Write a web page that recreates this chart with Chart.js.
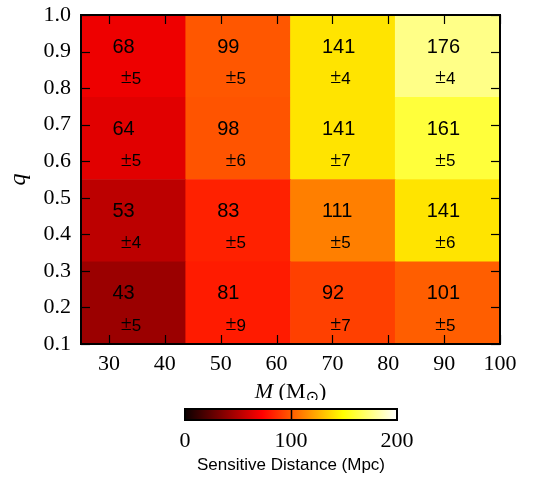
<!DOCTYPE html>
<html>
<head>
<meta charset="utf-8">
<script src="https://cdn.jsdelivr.net/npm/chart.js@4.4.1/dist/chart.umd.min.js"></script>
<style>
  body { margin: 0; background: #fff; }
  canvas { display: block; }
</style>
</head>
<body>
<canvas id="heatChart" width="535" height="400"></canvas>
<canvas id="scaleChart" width="535" height="79"></canvas>
<script>
// bin edges
const massEdges = [25, 43.75, 62.5, 81.25, 100];
const qEdges = [0.1, 0.325, 0.55, 0.775, 1.0];

// sensitive distance (Mpc), one row per q bin from bottom to top
const distRow1 = [43, 81, 92, 101];
const distRow2 = [53, 83, 111, 141];
const distRow3 = [64, 98, 141, 161];
const distRow4 = [68, 99, 141, 176];

// errors
const errRow1 = [5, 9, 7, 5];
const errRow2 = [4, 5, 5, 6];
const errRow3 = [5, 6, 7, 5];
const errRow4 = [5, 5, 4, 4];

const colorbarTicks = [0, 100, 200];

const distRows = [distRow1, distRow2, distRow3, distRow4];
const errRows = [errRow1, errRow2, errRow3, errRow4];
const massBins = massEdges.slice(0, -1).map((m, i) => m + '-' + massEdges[i + 1]);

const serif = "'Liberation Serif', 'DejaVu Serif', serif";
const sans = "'Liberation Sans', Arial, sans-serif";

// matplotlib "hot" colormap
const hotStops = [0, 0.365079, 0.746032, 1];
function hotColor(v) {
    const t = Math.min(1, Math.max(0, v / colorbarTicks[colorbarTicks.length - 1]));
    const r = t < hotStops[1] ? 0.0416 + (1 - 0.0416) * t / hotStops[1] : 1;
    const g = t < hotStops[1] ? 0 : (t < hotStops[2] ? (t - hotStops[1]) / (hotStops[2] - hotStops[1]) : 1);
    const b = t < hotStops[2] ? 0 : (t - hotStops[2]) / (1 - hotStops[2]);
    return 'rgb(' + Math.round(r * 255) + ',' + Math.round(g * 255) + ',' + Math.round(b * 255) + ')';
}

function line(ctx, x1, y1, x2, y2) {
    ctx.beginPath();
    ctx.moveTo(x1, y1);
    ctx.lineTo(x2, y2);
    ctx.stroke();
}

// numbers in the cells
const cellText = {
    id: 'cellText',
    afterDatasetsDraw(chart) {
        const ctx = chart.ctx;
        const x = chart.scales.x, y = chart.scales.y;
        ctx.save();
        ctx.fillStyle = '#000';
        ctx.textBaseline = 'middle';
        ctx.textAlign = 'left';
        distRows.forEach((row, r) => {
            const q0 = qEdges[r], q1 = qEdges[r + 1];
            row.forEach((d, i) => {
                const m0 = massEdges[i], m1 = massEdges[i + 1];
                const nx = x.getPixelForValue(m0 + 0.3 * (m1 - m0));
                const ny = y.getPixelForValue(q0 + 0.61 * (q1 - q0));
                ctx.font = '20px ' + sans;
                ctx.fillText(String(d), nx, ny);
                const ex = x.getPixelForValue(m0 + 0.38 * (m1 - m0));
                const ey = y.getPixelForValue(q0 + 0.233 * (q1 - q0));
                ctx.font = '20px ' + serif;
                ctx.fillText('\u00b1', ex, ey);
                const w = ctx.measureText('\u00b1').width;
                ctx.font = '17px ' + sans;
                ctx.fillText(String(errRows[r][i]), ex + w, ey + 1);
            });
        });
        ctx.restore();
    }
};

// frame, inward ticks and the x title
const frame = {
    id: 'frame',
    afterDraw(chart) {
        const ctx = chart.ctx;
        const {left, right, top, bottom} = chart.chartArea;
        const x = chart.scales.x, y = chart.scales.y;
        ctx.save();
        ctx.strokeStyle = '#000';
        ctx.lineWidth = 1.2;
        x.ticks.forEach(t => {
            const px = Math.round(x.getPixelForValue(t.value)) + 0.5;
            line(ctx, px, bottom, px, bottom - 9);
            line(ctx, px, top, px, top + 9);
        });
        y.ticks.forEach(t => {
            const py = Math.round(y.getPixelForValue(t.value)) + 0.5;
            line(ctx, left, py, left + 9, py);
            line(ctx, right, py, right - 9, py);
        });
        ctx.lineWidth = 2;
        ctx.strokeRect(left, top, right - left, bottom - top);

        // M (M_sun)
        ctx.fillStyle = '#000';
        ctx.textBaseline = 'alphabetic';
        ctx.textAlign = 'left';
        const parts = [
            ['italic 22px ' + serif, 'M', 0],
            ['22px ' + serif, ' (M', 0],
            ['16px ' + "'DejaVu Sans', sans-serif", '\u2299', 4],
            ['22px ' + serif, ')', 0]
        ];
        let total = 0;
        parts.forEach(p => { ctx.font = p[0]; total += ctx.measureText(p[1]).width; });
        let cx = (left + right) / 2 - total / 2;
        parts.forEach(p => {
            ctx.font = p[0];
            ctx.fillText(p[1], cx, 398 + p[2]);
            cx += ctx.measureText(p[1]).width;
        });
        ctx.restore();
    }
};

new Chart(document.getElementById('heatChart'), {
    type: 'bar',
    data: {
        labels: massBins,
        datasets: distRows.map((row, r) => ({
            label: 'q ' + qEdges[r] + '-' + qEdges[r + 1],
            data: row.map(() => [qEdges[r], qEdges[r + 1]]),
            backgroundColor: row.map(hotColor),
            borderWidth: 0,
            xAxisID: 'xc',
            yAxisID: 'y',
            grouped: false,
            categoryPercentage: 1,
            barPercentage: 1
        }))
    },
    options: {
        responsive: false,
        animation: false,
        layout: { padding: { top: 15, right: 35, left: 0, bottom: 0 } },
        plugins: {
            legend: { display: false },
            tooltip: { enabled: false }
        },
        scales: {
            xc: {
                type: 'category',
                axis: 'x',
                position: 'bottom',
                offset: true,
                display: false
            },
            x: {
                type: 'linear',
                position: 'bottom',
                offset: false,
                min: massEdges[0],
                max: massEdges[massEdges.length - 1],
                grid: { display: false, drawTicks: false, offset: false },
                border: { display: false },
                ticks: {
                    stepSize: 10,
                    includeBounds: false,
                    padding: 7,
                    color: '#000',
                    font: { family: serif, size: 22 }
                },
                afterFit: s => {
                    s.height = 56;
                    s.paddingLeft = 0;
                    s.paddingRight = 0;
                }
            },
            y: {
                type: 'linear',
                min: qEdges[0],
                max: qEdges[qEdges.length - 1],
                grid: { display: false, drawTicks: false },
                border: { display: false },
                ticks: {
                    stepSize: 0.1,
                    padding: 10,
                    color: '#000',
                    font: { family: serif, size: 22 },
                    callback: v => v.toFixed(1)
                },
                title: {
                    display: true,
                    text: 'q',
                    color: '#000',
                    font: { family: serif, size: 24, style: 'italic' },
                    padding: { top: 4, bottom: 0 }
                },
                afterFit: s => {
                    s.width = 81;
                    s.paddingTop = 0;
                    s.paddingBottom = 0;
                }
            }
        }
    },
    plugins: [cellText, frame]
});

// colour bar
const barFrame = {
    id: 'barFrame',
    afterDraw(chart) {
        const ctx = chart.ctx;
        const {left, right, top, bottom} = chart.chartArea;
        const x = chart.scales.x;
        ctx.save();
        ctx.strokeStyle = '#000';
        ctx.lineWidth = 1.5;
        colorbarTicks.slice(1, -1).forEach(t => {
            const px = Math.round(x.getPixelForValue(t)) + 0.5;
            line(ctx, px, top, px, bottom);
        });
        ctx.lineWidth = 2;
        ctx.strokeRect(left, top, right - left, bottom - top);
        ctx.restore();
    }
};

new Chart(document.getElementById('scaleChart'), {
    type: 'bar',
    data: {
        labels: [''],
        datasets: [{
            data: [[colorbarTicks[0], colorbarTicks[colorbarTicks.length - 1]]],
            backgroundColor: c => {
                const area = c.chart.chartArea;
                if (!area) return '#000';
                const g = c.chart.ctx.createLinearGradient(area.left, 0, area.right, 0);
                hotStops.forEach(s => g.addColorStop(s, hotColor(s * colorbarTicks[colorbarTicks.length - 1])));
                return g;
            },
            borderWidth: 0,
            categoryPercentage: 1,
            barPercentage: 1
        }]
    },
    options: {
        indexAxis: 'y',
        responsive: false,
        animation: false,
        layout: { padding: { top: 9, left: 185, right: 138, bottom: 0 } },
        plugins: {
            legend: { display: false },
            tooltip: { enabled: false }
        },
        scales: {
            y: { type: 'category', display: false },
            x: {
                type: 'linear',
                min: colorbarTicks[0],
                max: colorbarTicks[colorbarTicks.length - 1],
                grid: { display: false, drawTicks: false },
                border: { display: false },
                ticks: {
                    stepSize: 100,
                    padding: 8,
                    color: '#000',
                    font: { family: serif, size: 22 }
                },
                title: {
                    display: true,
                    text: 'Sensitive Distance (Mpc)',
                    color: '#000',
                    font: { family: sans, size: 17 },
                    padding: { top: 0, bottom: 3 }
                },
                afterFit: s => { s.height = 59; }
            }
        }
    },
    plugins: [barFrame]
});
</script>
</body>
</html>
